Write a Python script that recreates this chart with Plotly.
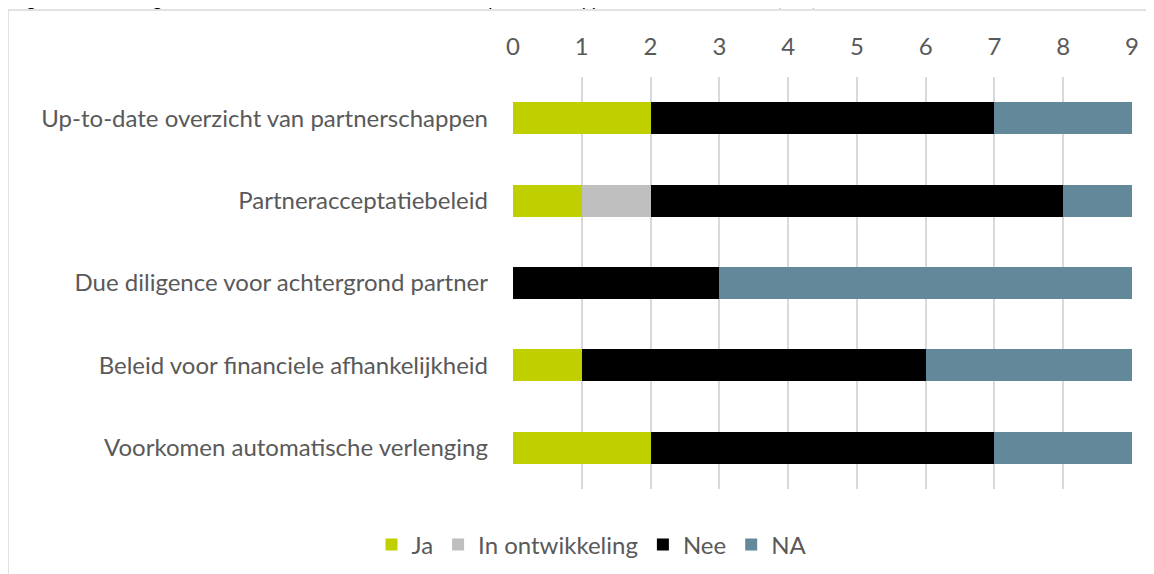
import plotly.graph_objects as go

categories = [
    "Up-to-date overzicht van partnerschappen",
    "Partneracceptatiebeleid",
    "Due diligence voor achtergrond partner",
    "Beleid voor financiele afhankelijkheid",
    "Voorkomen automatische verlenging",
]
ja = [2, 1, 0, 1, 2]
in_ontwikkeling = [0, 1, 0, 0, 0]
nee = [5, 6, 3, 5, 5]
na = [2, 1, 6, 3, 2]
tick_vals = list(range(0, 10))

series = [
    ("Ja", ja, "#c0cf00"),
    ("In ontwikkeling", in_ontwikkeling, "#bfbfbf"),
    ("Nee", nee, "#000000"),
    ("NA", na, "#62889a"),
]

OFF = 8  # page body margin
W, H = 1154, 574
L, T = 513 - OFF, 77 - OFF
R = W - (1132 - OFF)
B = H - (489 - OFF)
pw, ph = W - L - R, H - T - B

def xf(px):
    return (px - OFF - L) / pw

def yf(py):
    return (H - B - (py - OFF)) / ph

fig = go.Figure()
for name, vals, color in series:
    fig.add_trace(go.Bar(
        y=categories, x=vals, name=name, orientation="h",
        marker=dict(color=color, line=dict(width=0)),
        width=0.39,
    ))

font_family = "Lato, 'Open Sans', sans-serif"
FS = 24
fig.update_layout(
    width=W, height=H,
    barmode="stack",
    plot_bgcolor="white", paper_bgcolor="white",
    margin=dict(l=L, r=R, t=T, b=B),
    font=dict(family=font_family, color="#595959", size=FS),
    showlegend=True,
    legend=dict(orientation="h", x=xf(592), xanchor="center", y=yf(545), yanchor="middle",
                font=dict(size=FS, color="#595959"), traceorder="normal",
                itemwidth=30),
    xaxis=dict(side="top", range=[0, 9], tickvals=tick_vals, showgrid=True,
               gridcolor="#d9d9d9", gridwidth=1.5, zeroline=False, showline=False,
               ticks="", ticklabelstandoff=16, tickfont=dict(size=FS, color="#595959")),
    yaxis=dict(autorange="reversed", showgrid=False, zeroline=False, showline=False,
               ticks="", ticklabelstandoff=24, tickfont=dict(size=FS, color="#595959")),
    shapes=[dict(type="rect", xref="paper", yref="paper",
                 x0=xf(8), x1=xf(1180), y0=yf(620), y1=yf(10),
                 line=dict(color="#d9d9d9", width=1.5), fillcolor="rgba(0,0,0,0)", layer="below")],
    annotations=[dict(text="Figuur 4: Aanwezigheid van documenten ten aanzien van de partnerschappen in IATI-indicatoren (n=9)",
                      xref="paper", yref="paper", x=xf(10), y=yf(12), xanchor="left", yanchor="bottom",
                      showarrow=False, font=dict(size=18, color="#000000", family="Lato, sans-serif"))],
)

fig.write_html("out.html")
